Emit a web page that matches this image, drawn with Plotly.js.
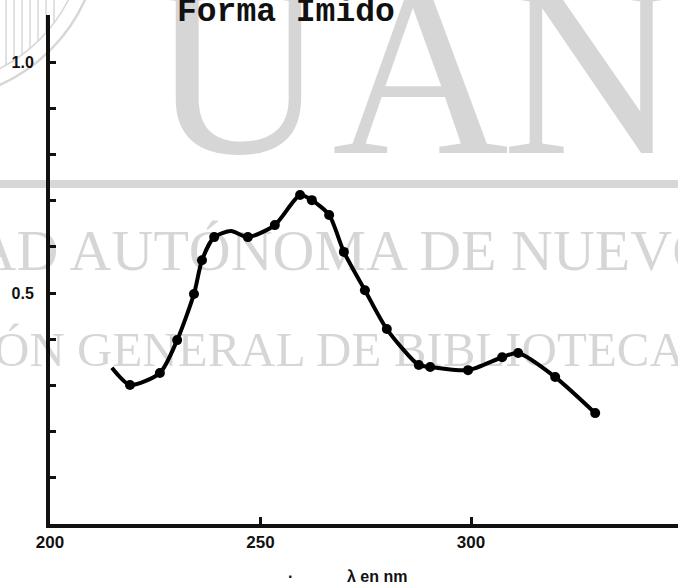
<!DOCTYPE html>
<html>
<head>
<meta charset="utf-8">
<script src="https://cdn.plot.ly/plotly-3.0.1.min.js"></script>
<style>html,body{margin:0;padding:0;background:#fff;}#chart{width:678px;height:587px;}</style>
</head>
<body>
<div id="chart"></div>
<script>
// ---- data ----
const wavelength = [214.7, 219.0, 226.1, 230.2, 234.2, 236.1, 239.0, 243.0, 247.0, 253.4, 259.4, 262.2, 266.3, 269.8, 274.8, 280.0, 287.6, 290.3, 299.3, 307.4, 311.2, 320.0, 329.5];
const absorbance = [0.338, 0.301, 0.327, 0.398, 0.498, 0.571, 0.621, 0.634, 0.621, 0.647, 0.712, 0.701, 0.669, 0.589, 0.506, 0.422, 0.344, 0.340, 0.333, 0.361, 0.370, 0.318, 0.240];
const unmarkedIdx = [0, 7];           // curve points drawn without a dot
const xTickVals = [200, 250, 300];
const xTickText = ['200', '250', '300'];
const yTickVals = [0.1, 0.2, 0.3, 0.4, 0.5, 0.6, 0.7, 0.8, 0.9, 1.0];
const yTickText = ['', '', '', '', '0.5', '', '', '', '', '1.0'];
const chartTitle = 'Forma Imido';
const xTitle = 'λ en nm';
const wmLetters = ['U', 'A', 'N'];
const wmLine1 = 'UNIVERSIDAD AUTÓNOMA DE NUEVO LEÓN';
const wmLine2 = 'DIRECCIÓN GENERAL DE BIBLIOTECAS';

// ---- layout helpers (pixel -> paper) ----
const M = {l: 50, r: 0, t: 15, b: 63};
const PW = 678 - M.l - M.r, PH = 587 - M.t - M.b;
const px = x => (x - M.l) / PW;
const py = y => (587 - M.b - y) / PH;
const WM = 'rgba(0,0,0,0.16)';
const WMS = '#d7d7d7';

const sizes = wavelength.map((_, i) => unmarkedIdx.includes(i) ? 0 : 10);

const traces = [{
  x: wavelength, y: absorbance, type: 'scatter', mode: 'lines+markers',
  line: {color: '#000', width: 4, shape: 'spline', smoothing: 0.7},
  marker: {color: '#000', size: sizes, opacity: 1, line: {width: 0}},
  hoverinfo: 'x+y', showlegend: false
}];

const annotations = [];
const wmX = [238, 420, 590];
wmLetters.forEach((t, i) => annotations.push({
  text: t, xref: 'paper', yref: 'paper', x: px(wmX[i]), y: py(70),
  xanchor: 'center', yanchor: 'middle', showarrow: false,
  font: {family: 'Liberation Serif', size: 245, color: WM}
}));
annotations.push({text: wmLine1, xref: 'paper', yref: 'paper', x: px(272), y: py(250),
  xanchor: 'center', yanchor: 'middle', showarrow: false,
  font: {family: 'Liberation Serif', size: 58, color: WM}});
annotations.push({text: wmLine2, xref: 'paper', yref: 'paper', x: px(255), y: py(349),
  xanchor: 'center', yanchor: 'middle', showarrow: false,
  font: {family: 'Liberation Serif', size: 49, color: WM}});
annotations.push({text: chartTitle, xref: 'paper', yref: 'paper', x: px(286), y: py(12),
  xanchor: 'center', yanchor: 'middle', showarrow: false,
  font: {family: 'Liberation Mono', size: 33, color: '#111', weight: 'bold'}});
annotations.push({text: xTitle, xref: 'paper', yref: 'paper', x: px(377), y: py(576),
  xanchor: 'center', yanchor: 'middle', showarrow: false,
  font: {family: 'Liberation Sans', size: 16, color: '#111', weight: 'bold'}});
annotations.push({text: '·', xref: 'paper', yref: 'paper', x: px(290), y: py(576),
  xanchor: 'center', yanchor: 'middle', showarrow: false,
  font: {family: 'Liberation Sans', size: 16, color: '#111', weight: 'bold'}});

const shapes = [
  {type: 'rect', xref: 'paper', yref: 'paper', x0: px(-5), x1: px(690), y0: py(188), y1: py(180),
   fillcolor: WMS, line: {width: 0}, layer: 'below'}
];
// crest arcs, top-left
[[170, 2.5], [155, 1.5]].forEach(([r, w]) => shapes.push({
  type: 'circle', xref: 'paper', yref: 'paper', x0: px(-70 - r), x1: px(-70 + r),
  y0: py(-70 + r), y1: py(-70 - r), line: {color: WMS, width: w}, layer: 'below'
}));
[6, 14, 22, 30, 38, 46, 54].forEach(x => {
  const yb = -70 + Math.sqrt(155 * 155 - (x + 70) * (x + 70));
  shapes.push({type: 'line', xref: 'paper', yref: 'paper', x0: px(x), x1: px(x),
    y0: py(0), y1: py(yb), line: {color: WMS, width: 1.5}, layer: 'below'});
});

const layout = {
  width: 678, height: 587, margin: M,
  paper_bgcolor: '#fff', plot_bgcolor: '#fff',
  xaxis: {range: [200, 200 + PW / 4.21], showgrid: false, zeroline: false,
    showline: true, linecolor: '#111', linewidth: 4,
    tickmode: 'array', tickvals: xTickVals, ticktext: xTickText,
    ticks: 'inside', ticklen: 7, tickwidth: 3, tickcolor: '#111',
    tickfont: {family: 'Liberation Sans', size: 17, color: '#111', weight: 'bold'}},
  yaxis: {range: [0, PH / 462], showgrid: false, zeroline: false,
    showline: true, linecolor: '#111', linewidth: 4,
    tickmode: 'array', tickvals: yTickVals, ticktext: yTickText,
    ticks: 'inside', ticklen: 6, tickwidth: 3, tickcolor: '#111', ticklabelstandoff: 9,
    tickfont: {family: 'Liberation Sans', size: 16, color: '#111', weight: 'bold'}},
  annotations: annotations, shapes: shapes, showlegend: false
};

Plotly.newPlot('chart', traces, layout, {displayModeBar: false, staticPlot: true});
</script>
</body>
</html>
